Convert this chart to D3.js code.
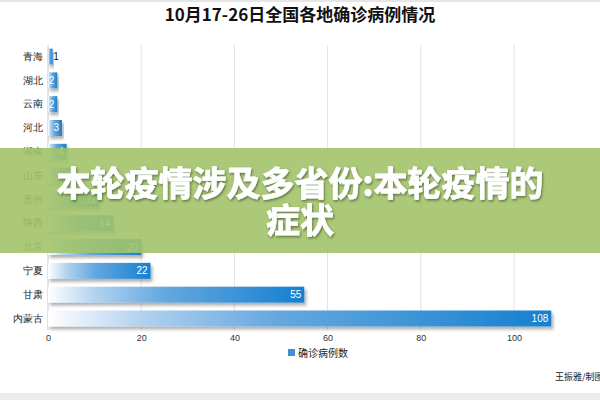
<!DOCTYPE html>
<html><head><meta charset="utf-8">
<script src="https://cdn.jsdelivr.net/npm/d3@7"></script>
<style>
html,body{margin:0;padding:0;background:#fff;overflow:hidden}
svg{display:block;font-family:"Noto Sans CJK SC","Noto Sans",sans-serif}
</style></head>
<body><svg id="c" width="600" height="400"></svg>
<script>
const title = "10月17-26日全国各地确诊病例情况";
const categories = ["青海","湖北","云南","河北","湖南","山东","贵州","陕西","北京","宁夏","甘肃","内蒙古"];
const values = [1,2,2,3,4,6,11,14,20,22,55,108];
const xTicks = [0,20,40,60,80,100];
const seriesName = "确诊病例数";
const source = "王振雅/制图";
const bannerLines = ["本轮疫情涉及多省份:本轮疫情的","症状"];

const svg = d3.select("#c");
const defs = svg.append("defs");
const grad = defs.append("linearGradient").attr("id","bg").attr("x1","0").attr("x2","1").attr("y1","0").attr("y2","0");
grad.append("stop").attr("offset","0%").attr("stop-color","#ffffff");
grad.append("stop").attr("offset","18%").attr("stop-color","#b3d3ef");
grad.append("stop").attr("offset","45%").attr("stop-color","#66a8df");
grad.append("stop").attr("offset","100%").attr("stop-color","#1580cf");
const f = defs.append("filter").attr("id","sh").attr("x","-5%").attr("y","-30%").attr("width","115%").attr("height","190%");
f.append("feDropShadow").attr("dx",2).attr("dy",3).attr("stdDeviation",1.5).attr("flood-color","#000").attr("flood-opacity",0.3);
const ft = defs.append("filter").attr("id","tsh").attr("x","-10%").attr("y","-20%").attr("width","120%").attr("height","150%");
ft.append("feDropShadow").attr("dx",1).attr("dy",1.5).attr("stdDeviation",1.2).attr("flood-color","#2d3a1a").attr("flood-opacity",0.6);

// frame bits
svg.append("rect").attr("x",0).attr("y",0).attr("width",600).attr("height",2).attr("fill","#e6e6e6");
svg.append("rect").attr("x",0).attr("y",393).attr("width",600).attr("height",7).attr("fill","#ececec");

svg.append("text").attr("x",300).attr("y",21).attr("text-anchor","middle")
  .attr("font-size",17).attr("font-weight","bold").attr("fill","#111").text(title);

const x = d3.scaleLinear().domain([0,100]).range([48,514]);
const y = d3.scaleBand().domain(categories).range([45,330]).paddingInner(0.33).paddingOuter(0.15);

// grid
svg.append("g").selectAll("line").data(xTicks.concat([120])).join("line")
  .attr("x1",d=>x(d)).attr("x2",d=>x(d)).attr("y1",45).attr("y2",330)
  .attr("stroke",d=>d===0?"#c8c8c8":"#e2e2e2").attr("stroke-width",1);

// x axis
const xa = svg.append("g").attr("transform","translate(0,332)")
  .call(d3.axisBottom(x).tickValues(xTicks).tickSize(0).tickPadding(3));
xa.select(".domain").remove();
xa.selectAll("text").attr("font-size",9).attr("fill","#333").attr("font-family","Liberation Sans, Arial, sans-serif");

// y axis
const ya = svg.append("g").attr("transform","translate(43,0)")
  .call(d3.axisLeft(y).tickSize(0).tickPadding(0));
ya.select(".domain").remove();
ya.selectAll("text").attr("font-size",10).attr("fill","#222");

// bars
const data = categories.map((c,i)=>({c,v:values[i]}));
svg.append("g").selectAll("rect").data(data).join("rect")
  .attr("x",x(0)).attr("y",d=>y(d.c)).attr("width",d=>x(d.v)-x(0)).attr("height",y.bandwidth())
  .attr("fill","url(#bg)").attr("filter","url(#sh)");

svg.append("g").selectAll("text").data(data).join("text")
  .attr("x",d=> (x(d.v)-x(0)) < 7 ? x(d.v)+0.5 : x(d.v)-3)
  .attr("y",d=>y(d.c)+y.bandwidth()/2+3.5)
  .attr("text-anchor",d=> (x(d.v)-x(0)) < 7 ? "start":"end")
  .attr("font-size",10).attr("font-family","Liberation Sans, Arial, sans-serif")
  .attr("fill",d=> (x(d.v)-x(0)) < 7 ? "#111":"#fff").text(d=>d.v);

// legend
svg.append("rect").attr("x",288).attr("y",349).attr("width",7).attr("height",7).attr("fill","#3d8fd6");
svg.append("text").attr("x",298).attr("y",357).attr("font-size",10).attr("fill","#222").text(seriesName);

// source
svg.append("text").attr("x",555).attr("y",380).attr("font-size",9).attr("fill","#222").text(source);

// banner
svg.append("rect").attr("x",0).attr("y",148).attr("width",600).attr("height",105).attr("fill","#a2c36a").attr("opacity",0.9);
const bt = svg.append("g").attr("font-size",34).attr("font-weight","bold").attr("fill","#fff")
  .attr("text-anchor","middle").attr("filter","url(#tsh)")
  .attr("stroke","#fff").attr("stroke-width",0.8);
bannerLines.forEach((t,i)=>{
  bt.append("text").attr("x",300).attr("y",196+i*37).text(t);
});
</script></body></html>
